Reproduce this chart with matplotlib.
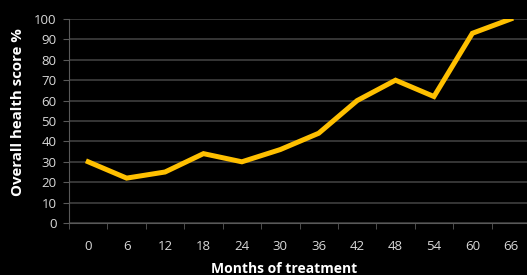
import matplotlib
matplotlib.use("Agg")
import matplotlib.pyplot as plt
import numpy as np

months = ["0", "6", "12", "18", "24", "30", "36", "42", "48", "54", "60", "66"]
score = [30, 22, 25, 34, 30, 36, 44, 60, 70, 62, 93, 100]

plt.rcParams['font.family'] = ['Open Sans', 'DejaVu Sans']

fig = plt.figure(figsize=(5.27, 2.75), dpi=100, facecolor='black')
ax = fig.add_axes([69/527, 1-223/275, 461/527, 204/275], facecolor='black')

x = np.arange(len(months))
ax.plot(x, score, color='#FFC000', linewidth=3.6, solid_joinstyle='miter', zorder=3)

ax.set_xlim(-0.5, len(months) - 0.5)
ax.set_ylim(0, 100)
ax.set_yticks(range(0, 101, 10))
ax.set_xticks(x)
ax.set_xticklabels(months)
ax.set_xticks(np.arange(-0.5, len(months), 1), minor=True)

# horizontal gridlines only
ax.grid(axis='y', color='#3f3f3f', linewidth=1.2)
ax.set_axisbelow(True)

for s in ['top', 'right']:
    ax.spines[s].set_visible(False)
ax.spines['left'].set_color('#595959')
ax.spines['bottom'].set_color('#595959')

ax.tick_params(axis='x', which='major', length=0, pad=12, labelsize=9.5, labelcolor='#d9d9d9')
ax.tick_params(axis='x', which='minor', length=4, color='#595959', direction='out')
ax.tick_params(axis='y', length=4, color='#595959', pad=5, labelsize=9.5, labelcolor='#d9d9d9')

# axis titles placed like the original slide
fig.text(284/527, 1-269/275, 'Months of treatment', color='white', fontsize=10,
         fontweight='bold', ha='center', va='center')
fig.text(18/527, 1-112/275, 'Overall health score %', color='white', fontsize=10.8,
         fontweight='bold', ha='center', va='center', rotation=90)

fig.savefig('out.png', dpi=100, facecolor='black')
